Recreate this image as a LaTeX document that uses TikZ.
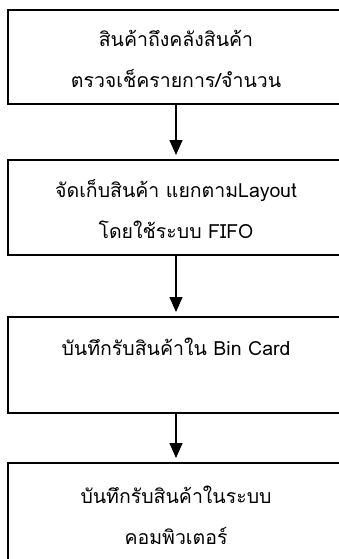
\documentclass[tikz,border=0pt]{standalone}
\usepackage{fontspec}
\newfontfamily\thaifont[Script=Thai]{Loma}
\usetikzlibrary{arrows.meta}
\begin{document}
\begin{tikzpicture}[x=1pt,y=1pt,
  box/.style={draw=black, line width=2pt, minimum width=344pt, inner sep=0pt},
  txt/.style={font=\thaifont\fontsize{19.5}{41}\selectfont, align=center, inner sep=0pt},
  flow/.style={line width=1.4pt, -{Triangle[width=13pt,length=15pt]}, shorten >=4pt}]
\useasboundingbox (0,0) rectangle (339,-559);
\fill[white] (0,0) rectangle (339,-559);
\node[box, minimum height=94pt] (b1) at (180,-57) {};
\node[box, minimum height=95pt] (b2) at (180,-207.5) {};
\node[box, minimum height=96pt] (b3) at (180,-365) {};
\node[box, minimum height=100pt] (b4) at (180,-513) {};
\node[txt] (t1) at (176,-59) {สินค้าถึงคลังสินค้า\\ตรวจเช็ครายการ/จำนวน};
\node[txt] (t2) at (176,-209.5) {จัดเก็บสินค้า แยกตามLayout\\โดยใช้ระบบ FIFO};
\node[txt] (t3) at (176,-347) {บันทึกรับสินค้าใน Bin Card};
\node[txt] (t4) at (176,-515.5) {บันทึกรับสินค้าในระบบ\\คอมพิวเตอร์};
\draw[flow] (t1.center |- b1.south) -- (t1.center |- b2.north);
\draw[flow] (t1.center |- b2.south) -- (t1.center |- b3.north);
\draw[flow] (t1.center |- b3.south) -- (t1.center |- b4.north);
\end{tikzpicture}
\end{document}
